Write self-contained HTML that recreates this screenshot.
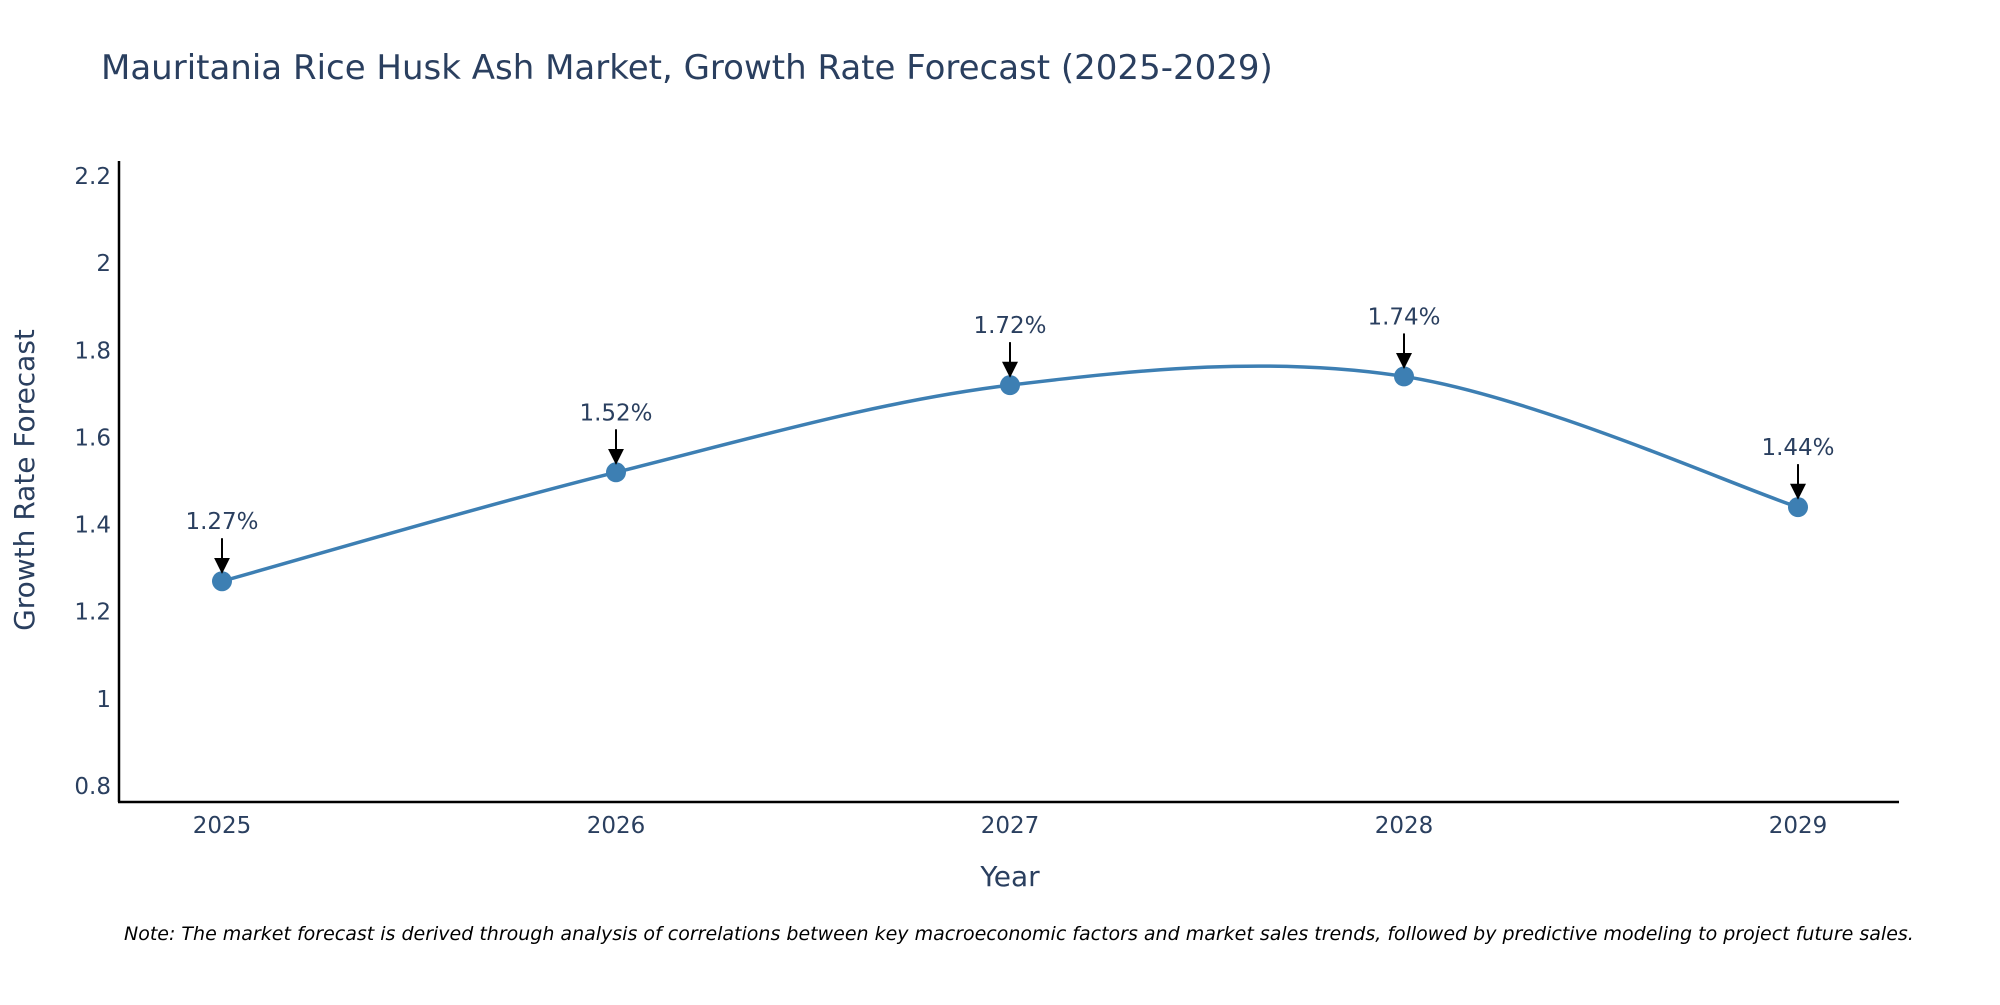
<!DOCTYPE html>
<html><head><meta charset="utf-8"><style>
html,body{margin:0;padding:0;background:#fff;}
svg text{font-family:"DejaVu Sans","Liberation Sans",sans-serif;}
</style></head><body>
<svg id="chart" width="2000" height="1000" xmlns="http://www.w3.org/2000/svg">
<defs><marker id="ah" viewBox="0 0 10 10" refX="8" refY="5" markerWidth="7" markerHeight="7" markerUnits="userSpaceOnUse" orient="auto"><path d="M0,0 L10,5 L0,10 z" fill="#000"/></marker>
<marker id="ah2" viewBox="0 0 10 10" refX="9" refY="5" markerWidth="16" markerHeight="16" markerUnits="userSpaceOnUse" orient="auto"><path d="M0,0 L10,5 L0,10 z" fill="#000"/></marker></defs>
<text x="101" y="79" font-size="34" fill="#2a3f5f">Mauritania Rice Husk Ash Market, Growth Rate Forecast (2025-2029)</text>
<g id="yticks"></g>
<g id="xticks"></g>
<line x1="119" y1="161" x2="119" y2="802" stroke="#000" stroke-width="2.5"/>
<line x1="118" y1="802" x2="1899" y2="802" stroke="#000" stroke-width="2.5"/>
<text x="34" y="480" font-size="28" fill="#2a3f5f" text-anchor="middle" transform="rotate(-90 34 480)">Growth Rate Forecast</text>
<text x="1010" y="886" font-size="28" fill="#2a3f5f" text-anchor="middle">Year</text>
<g id="series"></g>
<g id="annos"></g>
<text x="124" y="940" font-size="19" font-style="italic" fill="#000">Note: The market forecast is derived through analysis of correlations between key macroeconomic factors and market sales trends, followed by predictive modeling to project future sales.</text>
</svg>
<script>
const years = [2025, 2026, 2027, 2028, 2029];
const growthValues = [1.27, 1.52, 1.72, 1.74, 1.44];
const valueLabels = ["1.27%", "1.52%", "1.72%", "1.74%", "1.44%"];
const yTickValues = [0.8, 1, 1.2, 1.4, 1.6, 1.8, 2, 2.2];
const yTickLabels = ["0.8", "1", "1.2", "1.4", "1.6", "1.8", "2", "2.2"];

const NS = "http://www.w3.org/2000/svg";
function xScale(v){ return 222 + (v - 2025) * (1798 - 222) / 4; }
function yScale(v){ return 786 - (v - 0.8) * (786 - 176) / 1.4; }
function mk(tag, attrs, parent){ const e = document.createElementNS(NS, tag); for (const k in attrs) e.setAttribute(k, attrs[k]); parent.appendChild(e); return e; }

const yt = document.getElementById('yticks');
yTickValues.forEach((v, i) => {
  const t = mk('text', {x: 111, y: yScale(v) + 8, 'font-size': 23, fill: '#2a3f5f', 'text-anchor': 'end'}, yt);
  
  
  t.textContent = yTickLabels[i];
});
const xt = document.getElementById('xticks');
years.forEach(y => {
  const t = mk('text', {x: xScale(y), y: 833, 'font-size': 23, fill: '#2a3f5f', 'text-anchor': 'middle'}, xt);
  
  
  t.textContent = String(y);
});

const pts = years.map((y, i) => [xScale(y), yScale(growthValues[i])]);
let d = 'M' + pts[0][0] + ',' + pts[0][1];
const s = 1/6;
for (let i = 0; i < pts.length - 1; i++) {
  const p0 = pts[Math.max(i - 1, 0)], p1 = pts[i], p2 = pts[i + 1], p3 = pts[Math.min(i + 2, pts.length - 1)];
  const c1 = [p1[0] + (p2[0] - p0[0]) * s, p1[1] + (p2[1] - p0[1]) * s];
  const c2 = [p2[0] - (p3[0] - p1[0]) * s, p2[1] - (p3[1] - p1[1]) * s];
  d += ' C' + c1 + ' ' + c2 + ' ' + p2;
}
const ser = document.getElementById('series');
const line = mk('path', {d: d, fill: 'none', stroke: '#3d7fb3', 'stroke-width': 3.5}, ser);


const an = document.getElementById('annos');
pts.forEach((p, i) => {
  const c = mk('circle', {cx: p[0], cy: p[1], r: 10, fill: '#3d7fb3'}, ser);
  
  
  const a = mk('line', {x1: p[0], y1: p[1] - 43, x2: p[0], y2: p[1] - 9, stroke: '#000', 'stroke-width': 2, 'marker-end': 'url(#ah2)'}, an);
  
  
  const t = mk('text', {x: p[0], y: p[1] - 52, 'font-size': 23, fill: '#2a3f5f', 'text-anchor': 'middle'}, an);
  
  
  t.textContent = valueLabels[i];
});
</script>
</body></html>
